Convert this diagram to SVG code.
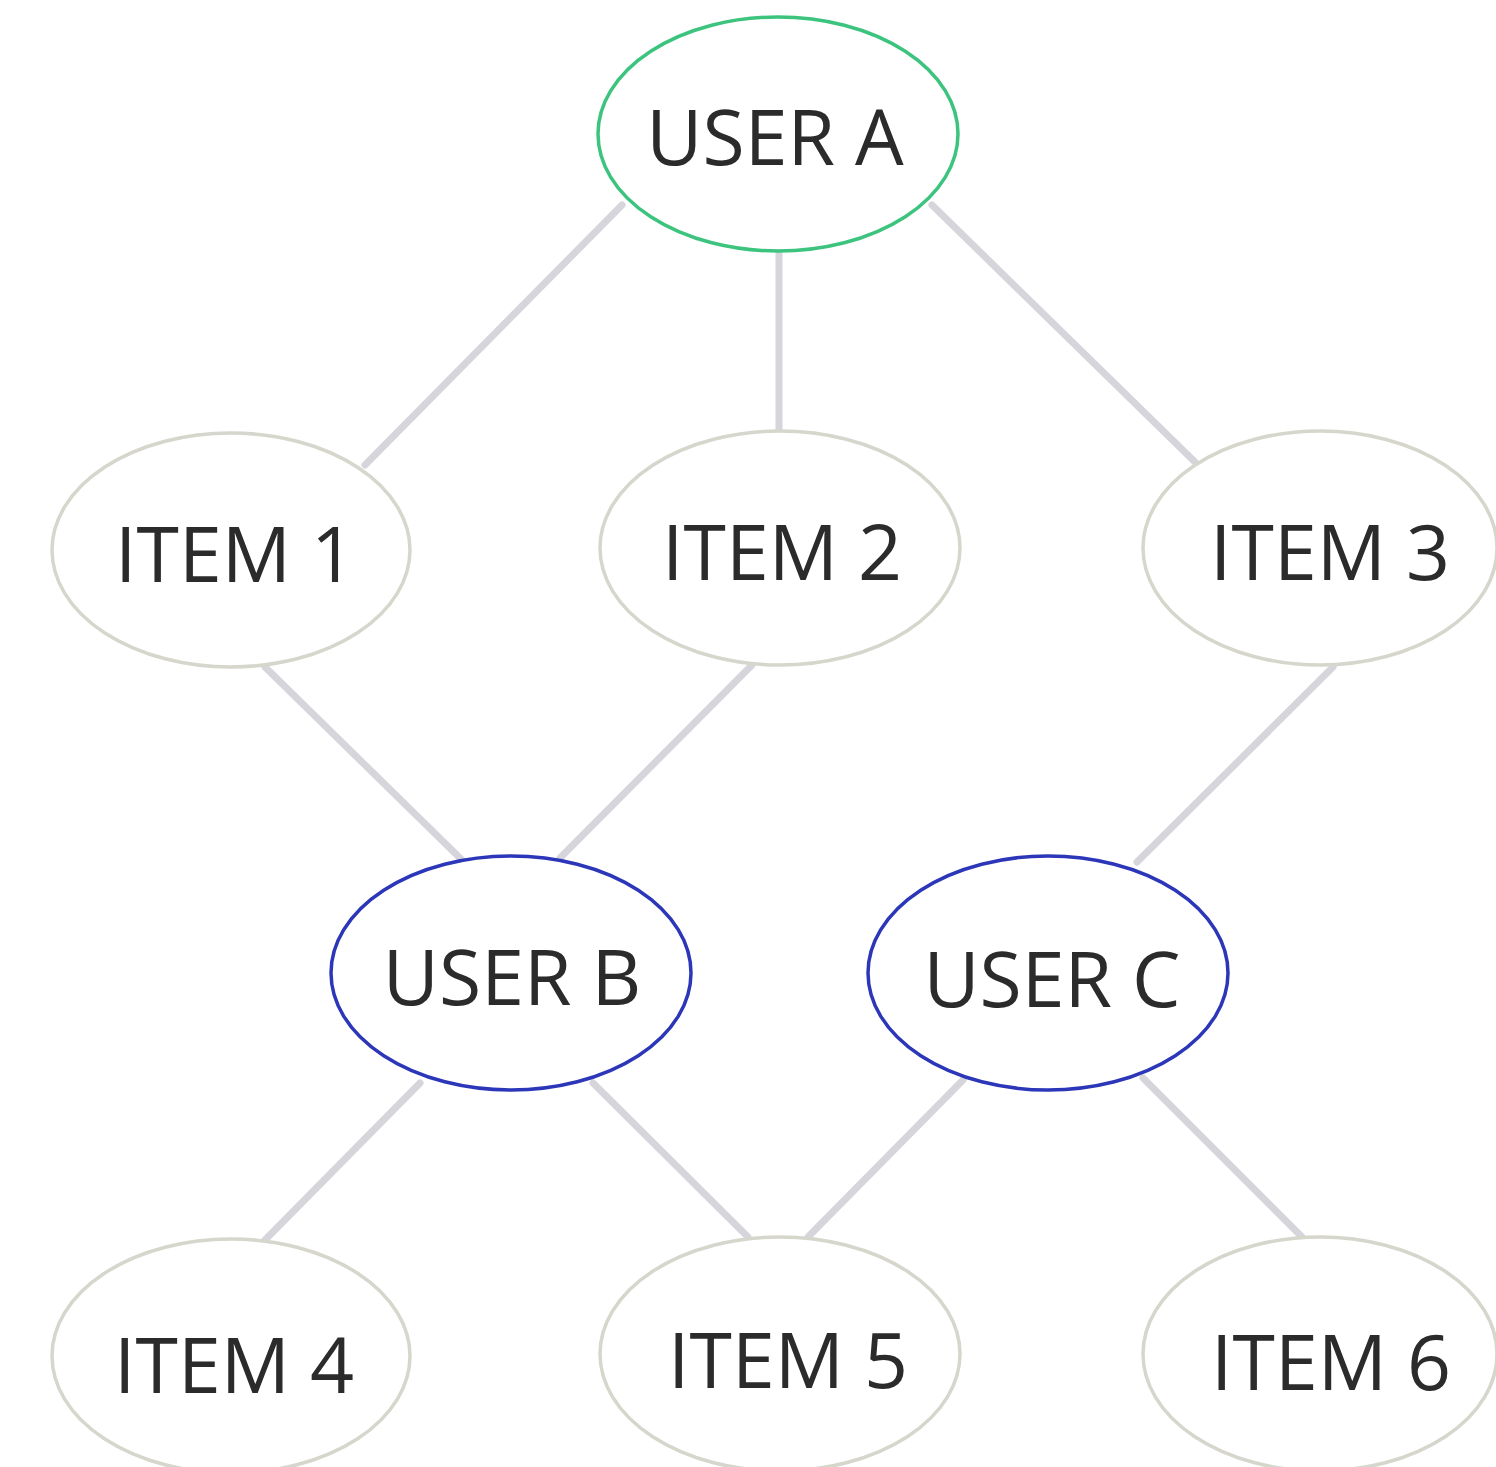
<svg xmlns="http://www.w3.org/2000/svg" width="1496" height="1467" viewBox="0 0 1496 1467">
<style>
.edge{stroke:#d5d5db;stroke-width:7;stroke-linecap:round;fill:none}
.node{fill:#ffffff;stroke-width:3.5}
.item{stroke:#d6d6cc}
.usera{stroke:#3cc47e}
.userbc{stroke:#2c36b8}
text{font-family:"Open Sans","Noto Sans","Liberation Sans",sans-serif;font-size:77px;fill:#2b2b2b;text-anchor:middle}
</style>
<rect width="1496" height="1467" fill="#ffffff"/>
<g id="connectors">
<line class="edge" x1="622" y1="205" x2="365" y2="465"/>
<line class="edge" x1="779" y1="251" x2="779" y2="431"/>
<line class="edge" x1="932" y1="205" x2="1195" y2="462"/>
<line class="edge" x1="265" y1="667" x2="462" y2="860"/>
<line class="edge" x1="752" y1="665" x2="560" y2="858"/>
<line class="edge" x1="1333" y1="667" x2="1137" y2="862"/>
<line class="edge" x1="420" y1="1083" x2="265" y2="1240"/>
<line class="edge" x1="593" y1="1083" x2="748" y2="1237"/>
<line class="edge" x1="963" y1="1080" x2="808" y2="1237"/>
<line class="edge" x1="1143" y1="1078" x2="1302" y2="1237"/>
</g>
<g id="userA"><ellipse class="node usera" cx="778" cy="134" rx="180" ry="117"/><text x="775" y="165">USER A</text></g>
<g id="item1"><ellipse class="node item" cx="231" cy="550" rx="179" ry="117"/><text x="235" y="582">ITEM 1</text></g>
<g id="item2"><ellipse class="node item" cx="780" cy="548" rx="180" ry="117"/><text x="782" y="580">ITEM 2</text></g>
<g id="item3"><ellipse class="node item" cx="1320" cy="548" rx="177" ry="117"/><text x="1330" y="580">ITEM 3</text></g>
<g id="userB"><ellipse class="node userbc" cx="511" cy="973" rx="180" ry="117"/><text x="512" y="1005">USER B</text></g>
<g id="userC"><ellipse class="node userbc" cx="1048" cy="973" rx="180" ry="117"/><text x="1052" y="1007">USER C</text></g>
<g id="item4"><ellipse class="node item" cx="231" cy="1356" rx="179" ry="117"/><text x="234" y="1393">ITEM 4</text></g>
<g id="item5"><ellipse class="node item" cx="780" cy="1354" rx="180" ry="117"/><text x="788" y="1388">ITEM 5</text></g>
<g id="item6"><ellipse class="node item" cx="1320" cy="1354" rx="177" ry="117"/><text x="1331" y="1390">ITEM 6</text></g>
</svg>
